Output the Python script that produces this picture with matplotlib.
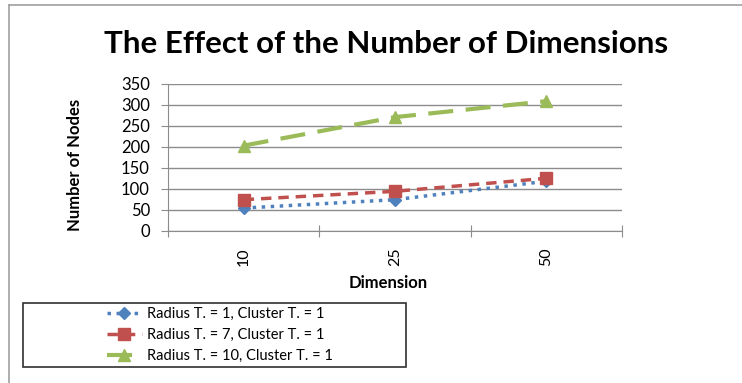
import numpy as np
import matplotlib.pyplot as plt
from matplotlib.patches import Rectangle

plt.rcParams['font.family'] = ['Lato', 'DejaVu Sans']

# data
dimensions = ['10', '25', '50']
radius1 = [54, 74, 118]
radius7 = [74, 94, 125]
radius10 = [203, 271, 309]
labels = ['Radius T. = 1, Cluster T. = 1',
          'Radius T. = 7, Cluster T. = 1',
          'Radius T. = 10, Cluster T. = 1']

fig = plt.figure(figsize=(7.42, 3.83), dpi=100)
# outer chart border (left and top only visible)
fig.add_artist(plt.Line2D([9/742, 9/742], [0, 1 - 5/383], color='#a0a0a0', lw=1.2))
fig.add_artist(plt.Line2D([9/742, 1], [1 - 5/383, 1 - 5/383], color='#a0a0a0', lw=1.2))

ax = fig.add_axes([168/742, 1 - 230.7/383, (622 - 168)/742, (230.7 - 84)/383])
x = np.arange(len(dimensions))

ax.plot(x, radius1, color='#4F81BD', ls=(0, (1, 1.6)), lw=2.5, marker='D', ms=6, label=labels[0])
ax.plot(x, radius7, color='#C0504D', ls=(0, (3, 2)), lw=2.5, marker='s', ms=9, label=labels[1])
ax.plot(x, radius10, color='#9BBB59', ls=(0, (6, 3)), lw=3, marker='^', ms=9, label=labels[2])

ax.set_xlim(-0.5, 2.5)
ax.set_ylim(0, 350)
ax.set_yticks(range(0, 351, 50))
ax.yaxis.grid(True, color='#8c8c8c', lw=1)
ax.set_axisbelow(True)
ax.set_xticks([-0.5, 0.5, 1.5, 2.5])
ax.set_xticklabels([])
ax.set_xticks(x, minor=True)
ax.set_xticklabels(dimensions, minor=True, rotation=90, fontsize=11.5)
ax.tick_params(axis='x', which='minor', length=0, pad=12)
ax.tick_params(axis='x', which='major', direction='inout', length=8, color='#8c8c8c')
ax.tick_params(axis='y', direction='out', length=5, color='#8c8c8c', labelsize=12, pad=8)
for s in ['top', 'right']:
    ax.spines[s].set_visible(False)
for s in ['left', 'bottom']:
    ax.spines[s].set_color('#8c8c8c')

fig.text(386/742, 1 - 44/383, 'The Effect of the Number of Dimensions',
         ha='center', va='center', fontsize=22.5, fontweight='bold')
fig.text(75/742, 1 - 165/383, 'Number of Nodes', rotation=90,
         ha='center', va='center', fontsize=12, fontweight='bold')
fig.text(388/742, 1 - 283/383, 'Dimension', ha='center', va='center',
         fontsize=12, fontweight='bold')

leg = fig.legend(loc='center', bbox_to_anchor=(220/742, 1 - 335/383),
                 fontsize=10.5, frameon=False, handlelength=2.4, labelspacing=0.5,
                 handletextpad=0.4, borderpad=0.3)
fig.add_artist(Rectangle((23/742, 1 - 367/383), (406 - 23)/742, (367 - 302.5)/383,
                         transform=fig.transFigure, fill=False, ec='#303030', lw=1.2))

plt.savefig('out.png', dpi=100)
